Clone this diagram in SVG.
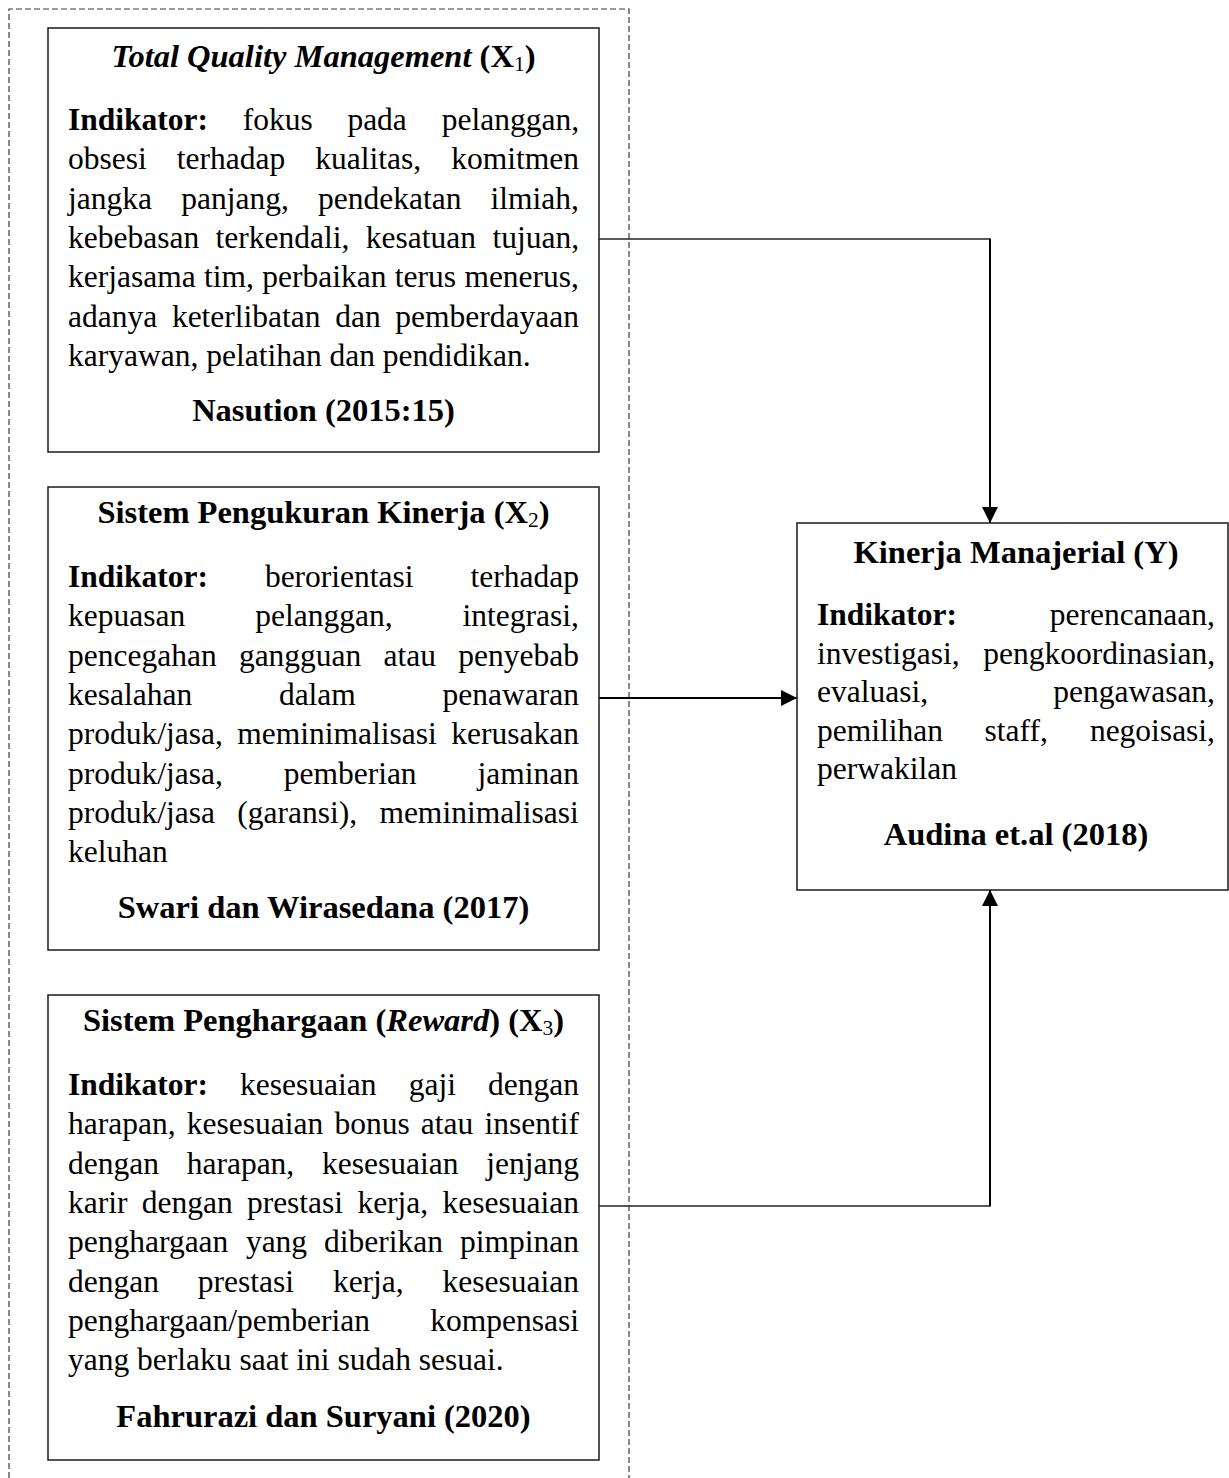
<svg xmlns="http://www.w3.org/2000/svg" width="1229" height="1478" viewBox="0 0 1229 1478">
<defs>
<style>
text{font-family:"Liberation Serif","Times New Roman",serif;font-size:31.5px;fill:#000;}
.b{font-weight:bold;}
.i{font-style:italic;}
.c{text-anchor:middle;font-size:32.5px;}
.box{fill:#fff;stroke:#1a1a1a;stroke-width:1.5;}
.dash{fill:none;stroke:#3a3a3a;stroke-width:1.2;stroke-dasharray:6 3;}
.ln{fill:none;stroke:#222;stroke-width:1.3;}
.lnb{fill:none;stroke:#000;stroke-width:2;}
.sub{font-size:21.5px;font-weight:normal;}
</style>
<marker id="ah" viewBox="0 0 10 10" refX="10" refY="5" markerWidth="8" markerHeight="8" markerUnits="strokeWidth" orient="auto">
<path d="M0,0 L10,5 L0,10 z" fill="#000"/>
</marker>
</defs>
<rect width="1229" height="1478" fill="#fff"/>
<path class="dash" d="M9,1478 V9 H629 V1478"/>

<g id="connectors">
<path class="ln" d="M599,239 H990"/>
<path class="lnb" d="M990,238.5 V523" marker-end="url(#ah)"/>
<path class="lnb" d="M599,698 H797" marker-end="url(#ah)"/>
<path class="ln" d="M599,1206 H990"/>
<path class="lnb" d="M990,1206.5 V890" marker-end="url(#ah)"/>
</g>

<g id="x1">
<rect class="box" x="48" y="28" width="551" height="424"/>
<text class="b c" x="323.5" y="67"><tspan class="i">Total Quality Management</tspan> (X<tspan class="sub" dy="4">1</tspan><tspan dy="-4">)</tspan></text>
<text y="130"><tspan x="68" class="b">Indikator:</tspan><tspan x="242.7">fokus</tspan><tspan x="347.4">pada</tspan><tspan x="441.7">pelanggan,</tspan></text>
<text y="169.3"><tspan x="68">obsesi</tspan><tspan x="176.8">terhadap</tspan><tspan x="315.3">kualitas,</tspan><tspan x="451.2">komitmen</tspan></text>
<text y="208.6"><tspan x="68">jangka</tspan><tspan x="181.2">panjang,</tspan><tspan x="318">pendekatan</tspan><tspan x="490.6">ilmiah,</tspan></text>
<text y="247.9"><tspan x="68">kebebasan</tspan><tspan x="215.6">terkendali,</tspan><tspan x="365.8">kesatuan</tspan><tspan x="492.4">tujuan,</tspan></text>
<text y="287.2"><tspan x="68">kerjasama</tspan><tspan x="204">tim,</tspan><tspan x="262.3">perbaikan</tspan><tspan x="394.8">terus</tspan><tspan x="464.4">menerus,</tspan></text>
<text y="326.5"><tspan x="68">adanya</tspan><tspan x="171.9">keterlibatan</tspan><tspan x="335.2">dan</tspan><tspan x="395.3">pemberdayaan</tspan></text>
<text x="68" y="365.8">karyawan, pelatihan dan pendidikan.</text>
<text class="b c" x="323.5" y="421">Nasution (2015:15)</text>
</g>

<g id="x2">
<rect class="box" x="48" y="487" width="551" height="463"/>
<text class="b c" x="323.5" y="523">Sistem Pengukuran Kinerja (X<tspan class="sub" dy="4">2</tspan><tspan dy="-4">)</tspan></text>
<text y="587"><tspan x="68" class="b">Indikator:</tspan><tspan x="264.9">berorientasi</tspan><tspan x="470.5">terhadap</tspan></text>
<text y="626.3"><tspan x="68">kepuasan</tspan><tspan x="255.3">pelanggan,</tspan><tspan x="462.6">integrasi,</tspan></text>
<text y="665.6"><tspan x="68">pencegahan</tspan><tspan x="238.9">gangguan</tspan><tspan x="383.6">atau</tspan><tspan x="458.3">penyebab</tspan></text>
<text y="704.9"><tspan x="68">kesalahan</tspan><tspan x="278.9">dalam</tspan><tspan x="442.6">penawaran</tspan></text>
<text y="744.2"><tspan x="68">produk/jasa,</tspan><tspan x="237.3">meminimalisasi</tspan><tspan x="451.3">kerusakan</tspan></text>
<text y="783.5"><tspan x="68">produk/jasa,</tspan><tspan x="283.7">pemberian</tspan><tspan x="477.5">jaminan</tspan></text>
<text y="822.8"><tspan x="68">produk/jasa</tspan><tspan x="237.3">(garansi),</tspan><tspan x="379.4">meminimalisasi</tspan></text>
<text x="68" y="862.1">keluhan</text>
<text class="b c" x="323.5" y="918">Swari dan Wirasedana (2017)</text>
</g>

<g id="x3">
<rect class="box" x="48" y="995" width="551" height="465"/>
<text class="b c" x="323.5" y="1031">Sistem Penghargaan (<tspan class="i">Reward</tspan>) (X<tspan class="sub" dy="4">3</tspan><tspan dy="-4">)</tspan></text>
<text y="1095"><tspan x="68" class="b">Indikator:</tspan><tspan x="240.1">kesesuaian</tspan><tspan x="408.7">gaji</tspan><tspan x="488">dengan</tspan></text>
<text y="1134.3"><tspan x="68">harapan,</tspan><tspan x="186.8">kesesuaian</tspan><tspan x="334.4">bonus</tspan><tspan x="420.8">atau</tspan><tspan x="484.5">insentif</tspan></text>
<text y="1173.6"><tspan x="68">dengan</tspan><tspan x="186.7">harapan,</tspan><tspan x="322">kesesuaian</tspan><tspan x="486.3">jenjang</tspan></text>
<text y="1212.9"><tspan x="68">karir</tspan><tspan x="141.7">dengan</tspan><tspan x="246.9">prestasi</tspan><tspan x="357.4">kerja,</tspan><tspan x="442.5">kesesuaian</tspan></text>
<text y="1252.2"><tspan x="68">penghargaan</tspan><tspan x="245.9">yang</tspan><tspan x="324.1">diberikan</tspan><tspan x="460">pimpinan</tspan></text>
<text y="1291.5"><tspan x="68">dengan</tspan><tspan x="197.8">prestasi</tspan><tspan x="332.9">kerja,</tspan><tspan x="442.5">kesesuaian</tspan></text>
<text y="1330.8"><tspan x="68">penghargaan/pemberian</tspan><tspan x="430.3">kompensasi</tspan></text>
<text x="68" y="1370.1">yang berlaku saat ini sudah sesuai.</text>
<text class="b c" x="323.5" y="1427">Fahrurazi dan Suryani (2020)</text>
</g>

<g id="y">
<rect class="box" x="797" y="523" width="431" height="367"/>
<text class="b c" x="1016" y="563">Kinerja Manajerial (Y)</text>
<text y="625"><tspan x="817" class="b">Indikator:</tspan><tspan x="1049.7">perencanaan,</tspan></text>
<text y="663.5"><tspan x="817">investigasi,</tspan><tspan x="983.2">pengkoordinasian,</tspan></text>
<text y="702"><tspan x="817">evaluasi,</tspan><tspan x="1053.2">pengawasan,</tspan></text>
<text y="740.5"><tspan x="817">pemilihan</tspan><tspan x="984.5">staff,</tspan><tspan x="1089.9">negoisasi,</tspan></text>
<text x="817" y="779">perwakilan</text>
<text class="b c" x="1016" y="845">Audina et.al (2018)</text>
</g>
</svg>
